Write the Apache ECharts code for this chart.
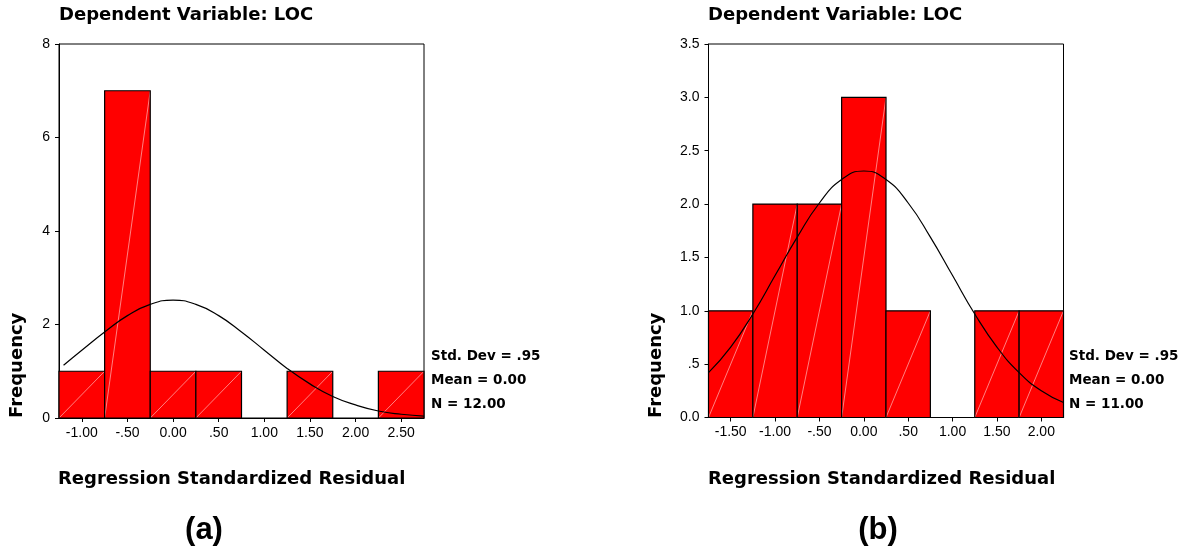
<!DOCTYPE html>
<html>
<head>
<meta charset="utf-8">
<script src="https://cdn.jsdelivr.net/npm/echarts@6/dist/echarts.min.js"></script>
<style>
html,body{margin:0;padding:0;background:#fff;}
#chart{width:1185px;height:558px;}
</style>
</head>
<body>
<div id="chart"></div>
<script>
// ---- Panel (a) data ----
const binEdgesA = [-1.25, -0.75, -0.25, 0.25, 0.75, 1.25, 1.75, 2.25, 2.75];
const countsA = [1, 7, 1, 1, 0, 1, 0, 1];
const curveXA = [-1.2, -1.0, -0.75, -0.5, -0.25, 0, 0.25, 0.5, 0.75, 1.0, 1.25, 1.5, 1.75, 2.0, 2.25, 2.5, 2.75];
const curveYA = [1.13, 1.45, 1.84, 2.19, 2.43, 2.52, 2.43, 2.19, 1.84, 1.45, 1.06, 0.73, 0.46, 0.28, 0.15, 0.08, 0.04];
const xTickValuesA = [-1, -0.5, 0, 0.5, 1, 1.5, 2, 2.5];
const xTickLabelsA = ['-1.00', '-.50', '0.00', '.50', '1.00', '1.50', '2.00', '2.50'];
const yTickValuesA = [0, 2, 4, 6, 8];
const yTickLabelsA = ['0', '2', '4', '6', '8'];
const statsA = ['Std. Dev = .95', 'Mean = 0.00', 'N = 12.00'];

// ---- Panel (b) data ----
const binEdgesB = [-1.75, -1.25, -0.75, -0.25, 0.25, 0.75, 1.25, 1.75, 2.25];
const countsB = [1, 2, 2, 3, 1, 0, 1, 1];
const curveXB = [-1.75, -1.5, -1.25, -1.0, -0.75, -0.5, -0.25, 0, 0.25, 0.5, 0.75, 1.0, 1.25, 1.5, 1.75, 2.0, 2.25];
const curveYB = [0.42, 0.66, 0.97, 1.33, 1.69, 2.01, 2.23, 2.31, 2.23, 2.01, 1.69, 1.33, 0.97, 0.66, 0.42, 0.25, 0.14];
const xTickValuesB = [-1.5, -1, -0.5, 0, 0.5, 1, 1.5, 2];
const xTickLabelsB = ['-1.50', '-1.00', '-.50', '0.00', '.50', '1.00', '1.50', '2.00'];
const yTickValuesB = [0, 0.5, 1, 1.5, 2, 2.5, 3, 3.5];
const yTickLabelsB = ['0.0', '.5', '1.0', '1.5', '2.0', '2.5', '3.0', '3.5'];
const statsB = ['Std. Dev = .95', 'Mean = 0.00', 'N = 11.00'];

const titleText = 'Dependent Variable: LOC';
const yName = 'Frequency';
const xName = 'Regression Standardized Residual';
const panelLabels = ['(a)', '(b)'];

function binData(edges, counts) {
  return counts.map((c, i) => [edges[i], edges[i + 1], c]);
}
function curveData(xs, ys) {
  return xs.map((x, i) => [x, ys[i]]);
}
function labelLookup(values, labels) {
  return function (v) {
    for (let i = 0; i < values.length; i++) {
      if (Math.abs(values[i] - v) < 1e-9) return labels[i];
    }
    return '';
  };
}

function renderBar(params, api) {
  const x0 = api.value(0), x1 = api.value(1), c = api.value(2);
  if (!c) return { type: 'group', children: [] };
  const pTop = api.coord([x0, c]);
  const pBot = api.coord([x1, 0]);
  const x = pTop[0], y = pTop[1], w = pBot[0] - pTop[0], h = pBot[1] - pTop[1];
  return {
    type: 'group',
    children: [
      { type: 'rect', shape: { x: x, y: y, width: w, height: h },
        style: { fill: '#ff0000', stroke: 'none' } },
      { type: 'line', shape: { x1: x, y1: y + h, x2: x + w, y2: y },
        style: { stroke: 'rgba(255,190,190,0.85)', lineWidth: 0.8 } },
      { type: 'rect', shape: { x: x, y: y, width: w, height: h },
        style: { fill: 'none', stroke: '#000', lineWidth: 1.2 } }
    ]
  };
}

const axisFont = { fontFamily: 'Liberation Sans', fontSize: 14, color: '#000' };
const boldFont = 'DejaVu Sans';

function xAxisCfg(gi, min, max, vals, labels) {
  return {
    type: 'value', gridIndex: gi, min: min, max: max,
    splitLine: { show: false },
    axisLine: { show: true, onZero: false, lineStyle: { color: '#000', width: 1 } },
    axisTick: { show: true, customValues: vals, length: 4, lineStyle: { color: '#000' } },
    axisLabel: Object.assign({ customValues: vals, margin: 8, formatter: labelLookup(vals, labels) }, axisFont)
  };
}
function yAxisCfg(gi, max, interval, vals, labels) {
  return {
    type: 'value', gridIndex: gi, min: 0, max: max, interval: interval,
    splitLine: { show: false },
    axisLine: { show: true, onZero: false, lineStyle: { color: '#000', width: 1 } },
    axisTick: { show: true, length: 4, lineStyle: { color: '#000' } },
    axisLabel: Object.assign({ margin: 9, formatter: labelLookup(vals, labels) }, axisFont)
  };
}

function textEl(x, y, text, size, align, weight, family, extra) {
  return Object.assign({
    type: 'text', x: x, y: y,
    style: { text: text, fontSize: size, fontWeight: weight, fontFamily: family,
      fill: '#000', align: align, verticalAlign: 'middle' }
  }, extra || {});
}

const graphics = [
  textEl(59, 15, titleText, 18, 'left', 'bold', boldFont),
  textEl(708, 15, titleText, 18, 'left', 'bold', boldFont),
  textEl(17, 418, yName, 18, 'left', 'bold', boldFont, { rotation: Math.PI / 2 }),
  textEl(656, 418, yName, 18, 'left', 'bold', boldFont, { rotation: Math.PI / 2 }),
  textEl(58, 479, xName, 18, 'left', 'bold', boldFont),
  textEl(708, 479, xName, 18, 'left', 'bold', boldFont),
  textEl(204, 530, panelLabels[0], 31, 'center', 'bold', 'Liberation Sans'),
  textEl(878, 530, panelLabels[1], 31, 'center', 'bold', 'Liberation Sans')
];
statsA.forEach((s, i) => graphics.push(textEl(431, 356 + i * 24, s, 13.5, 'left', 'bold', boldFont)));
statsB.forEach((s, i) => graphics.push(textEl(1069, 356 + i * 24, s, 13.5, 'left', 'bold', boldFont)));

const chart = echarts.init(document.getElementById('chart'), null, { renderer: 'canvas' });
chart.setOption({
  animation: false,
  backgroundColor: '#fff',
  grid: [
    { left: 59, top: 44, width: 365, height: 374, show: true, borderColor: '#000', borderWidth: 1, backgroundColor: 'transparent' },
    { left: 708.5, top: 44, width: 355, height: 373.5, show: true, borderColor: '#000', borderWidth: 1, backgroundColor: 'transparent' }
  ],
  xAxis: [
    xAxisCfg(0, -1.25, 2.75, xTickValuesA, xTickLabelsA),
    xAxisCfg(1, -1.75, 2.25, xTickValuesB, xTickLabelsB)
  ],
  yAxis: [
    yAxisCfg(0, 8, 2, yTickValuesA, yTickLabelsA),
    yAxisCfg(1, 3.5, 0.5, yTickValuesB, yTickLabelsB)
  ],
  series: [
    { type: 'custom', xAxisIndex: 0, yAxisIndex: 0, renderItem: renderBar,
      data: binData(binEdgesA, countsA), encode: { x: [0, 1], y: 2 }, z: 2 },
    { type: 'line', xAxisIndex: 0, yAxisIndex: 0, data: curveData(curveXA, curveYA),
      smooth: true, showSymbol: false, symbol: 'none',
      lineStyle: { color: '#000', width: 1.2 }, z: 3 },
    { type: 'custom', xAxisIndex: 1, yAxisIndex: 1, renderItem: renderBar,
      data: binData(binEdgesB, countsB), encode: { x: [0, 1], y: 2 }, z: 2 },
    { type: 'line', xAxisIndex: 1, yAxisIndex: 1, data: curveData(curveXB, curveYB),
      smooth: true, showSymbol: false, symbol: 'none',
      lineStyle: { color: '#000', width: 1.2 }, z: 3 }
  ],
  graphic: graphics
});
</script>
</body>
</html>
